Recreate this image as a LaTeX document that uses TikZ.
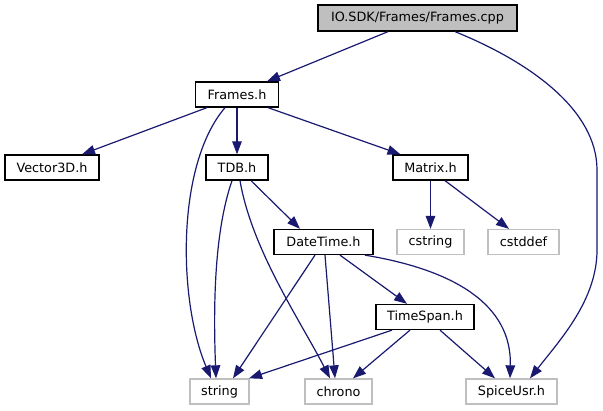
\documentclass[tikz,border=0pt]{standalone}
\usepackage{fontspec}
\setmainfont{DejaVu Sans}
\usetikzlibrary{arrows.meta}
\definecolor{edgeblue}{HTML}{191970}
\definecolor{sysgray}{HTML}{BFBFBF}
\begin{document}
\begin{tikzpicture}[x=1pt,y=-1pt,
  nbox/.style={draw=black,line width=1.3pt,inner sep=0pt,minimum height=25pt,font=\fontsize{12.8}{15}\selectfont},
  sbox/.style={draw=sysgray,line width=1.3pt,inner sep=0pt,minimum height=25pt,font=\fontsize{12.8}{15}\selectfont},
  rbox/.style={nbox,fill=sysgray},
  edge/.style={draw=edgeblue,line width=1.2pt,-{Triangle[length=13pt,width=9.5pt]}}]
\useasboundingbox (0,0) rectangle (603,411);
% nodes
\node[rbox,minimum width=199pt,minimum height=26pt] (cpp) at (417.5,18) {IO.SDK/Frames/Frames.cpp};
\node[nbox,minimum width=83pt] (frh) at (237,94.5) {Frames.h};
\node[nbox,minimum width=94pt] (vec) at (52,167.5) {Vector3D.h};
\node[nbox,minimum width=62pt] (tdb) at (237,167.5) {TDB.h};
\node[nbox,minimum width=75pt] (mat) at (430.5,167.5) {Matrix.h};
\node[nbox,minimum width=99pt] (dtm) at (323.5,242) {DateTime.h};
\node[sbox,minimum width=67pt] (cst) at (430.5,242) {cstring};
\node[sbox,minimum width=71pt] (csd) at (523.5,242) {cstddef};
\node[nbox,minimum width=98pt] (tsp) at (425,317) {TimeSpan.h};
\node[sbox,minimum width=59pt] (str) at (219.5,391.5) {string};
\node[sbox,minimum width=67pt] (chr) at (338.5,391.5) {chrono};
\node[sbox,minimum width=91pt] (spc) at (511.5,391.5) {SpiceUsr.h};
% edges
\draw[edge] ([xshift=-29.5pt]cpp.south) -- ([xshift=30pt]frh.north);
\draw[edge] ([xshift=37.5pt]cpp.south) .. controls (530,62) and (597,110) .. (597,170) -- (597,250) .. controls (597,300) and (560,340) .. ([xshift=18.5pt]spc.north);
\draw[edge] ([xshift=-30pt]frh.south) -- ([xshift=30pt]vec.north);
\draw[edge] (frh.south) -- (tdb.north);
\draw[edge] ([xshift=31pt]frh.south) -- ([xshift=-30pt]mat.north);
\draw[edge] ([xshift=-12pt]frh.south) .. controls (176,165) and (178,300) .. ([xshift=-8.5pt]str.north);
\draw[edge] ([xshift=-5pt]tdb.south) .. controls (215,230) and (213,300) .. ([xshift=-3.5pt]str.north);
\draw[edge] ([xshift=3pt]tdb.south) .. controls (252,250) and (300,320) .. ([xshift=-8.5pt]chr.north);
\draw[edge] ([xshift=14pt]tdb.south) -- ([xshift=-23.5pt]dtm.north);
\draw[edge] (mat.south) -- (cst.north);
\draw[edge] ([xshift=14.5pt]mat.south) -- ([xshift=-14.5pt]csd.north);
\draw[edge] ([xshift=-8.5pt]dtm.south) -- ([xshift=13.5pt]str.north);
\draw[edge] ([xshift=1.5pt]dtm.south) -- ([xshift=-3.5pt]chr.north);
\draw[edge] ([xshift=16.5pt]dtm.south) -- ([xshift=-18pt]tsp.north);
\draw[edge] ([xshift=41.5pt]dtm.south) .. controls (455,270) and (512,305) .. ([xshift=-1.5pt]spc.north);
\draw[edge] ([xshift=-33pt]tsp.south) -- ([xshift=29.5pt]str.north);
\draw[edge] ([xshift=-15pt]tsp.south) -- ([xshift=14.5pt]chr.north);
\draw[edge] ([xshift=15pt]tsp.south) -- ([xshift=-16.5pt]spc.north);
\end{tikzpicture}
\end{document}
